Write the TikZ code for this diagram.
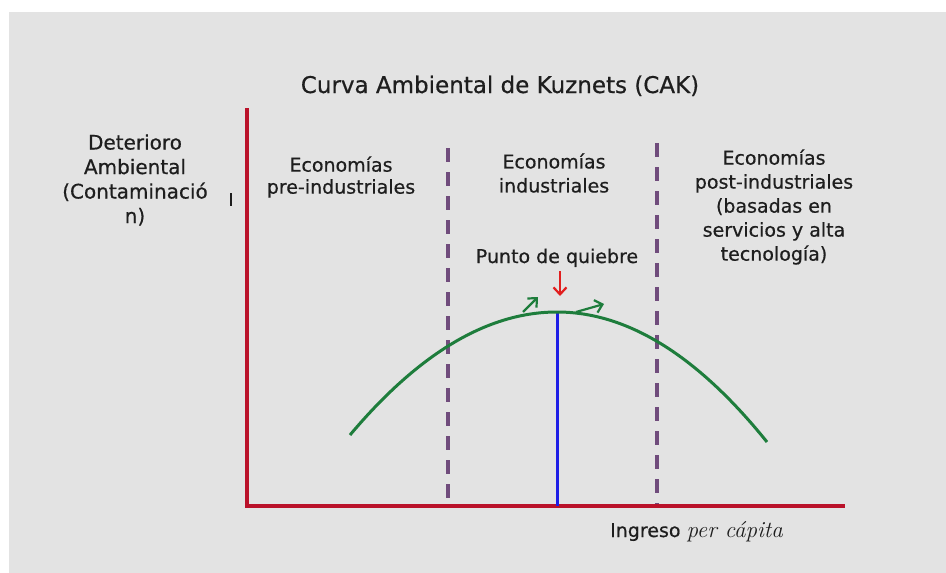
\documentclass[tikz,border=0pt]{standalone}
\usepackage{fontspec}
\setsansfont[FakeBold=0.6]{DejaVu Sans}
\usetikzlibrary{positioning}
\usetikzlibrary{arrows.meta}

\definecolor{bggray}{RGB}{227,227,227}
\definecolor{textgray}{RGB}{30,30,30}
\definecolor{axisred}{RGB}{186,18,42}
\definecolor{phasepurple}{RGB}{112,76,124}
\definecolor{curvegreen}{RGB}{30,125,60}
\definecolor{peakblue}{RGB}{30,30,230}
\definecolor{breakred}{RGB}{225,30,30}

\begin{document}
\begin{tikzpicture}[x=1pt, y=-1pt,
		axis/.style={draw=axisred, line width=4pt},
		phase/.style={draw=phasepurple, line width=4pt, dash pattern=on 14pt off 10pt},
		kuznets/.style={draw=curvegreen, line width=3pt},
		flow/.style={draw=curvegreen, line width=2.2pt, -{Straight Barb[length=7pt,width=13pt]}},
		label/.style={font=\sffamily\fontsize{19}{24}\selectfont, text=textgray, align=center, inner sep=0pt},
	]
		\useasboundingbox (0,0) rectangle (946,573);
		\fill[bggray] (9,12) rectangle (946,573);
		
		% ejes
		\coordinate (ytop) at (247,108);
		\coordinate (origin) at (247,506);
		\coordinate (xend) at (845,506);
		\draw[axis] (ytop) -- (origin) -- (xend);
		\draw[textgray, line width=1.5pt] (231,193) -- (231,206);
		
		% etapas
		\draw[phase] (448,148) -- (448,504);
		\draw[phase] (657,143) -- (657,504);
		
		% curva
		\coordinate (peak) at (557,312);
		\draw[peakblue, line width=3pt] (peak) -- (peak |- origin);
		\draw[kuznets] (350,435) .. controls (419,353) and (488,312) .. (peak) .. controls (627,312) and (697,355) .. (767,442);
		\draw[flow] (523,312) -- (538,297);
		\draw[flow] (576,312) -- (604,304);
		
		% textos
		\node[label, font=\sffamily\fontsize{23}{28}\selectfont, anchor=base] (title) at (500,93) {Curva Ambiental de Kuznets (CAK)};
		\node[label, font=\sffamily\fontsize{20}{24.5}\selectfont] (ylabel) at (135,180) {Deterioro\\Ambiental\\(Contaminació\\n)};
		\node[label, font=\sffamily\fontsize{19}{22}\selectfont] (preind) at (341,177) {Economías\\pre-industriales};
		\node[label] (ind) at (554,173) {Economías\\industriales};
		\node[label] (postind) at (774,207) {Economías\\post-industriales\\(basadas en\\servicios y alta\\tecnología)};
		\node[label, anchor=base] (quiebre) at (557,263) {Punto de quiebre};
		\node[label, anchor=base west] (xlabel) at (610,537) {Ingreso {\rmfamily\itshape\fontsize{23}{24}\selectfont per cápita}};
		
		\coordinate (qtip) at (560,296);
		\draw[breakred, line width=2.2pt, -{Straight Barb[length=7pt,width=13pt]}] (quiebre.south -| qtip) ++(0,4) -- (qtip);
	\end{tikzpicture}
\end{document}
